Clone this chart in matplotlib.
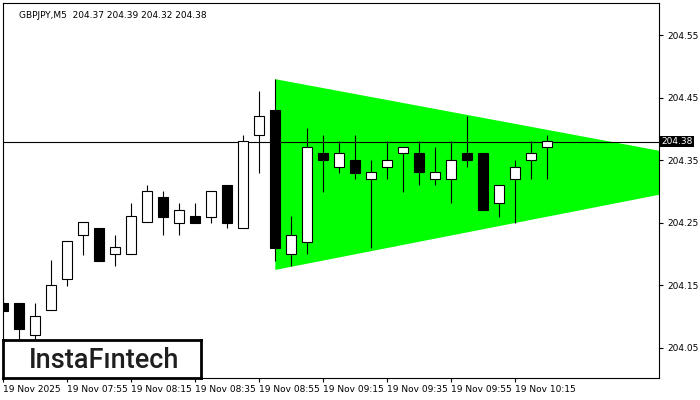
import matplotlib
matplotlib.use('Agg')
import matplotlib.pyplot as plt
import matplotlib.transforms as mtransforms
from matplotlib.patches import Rectangle, Polygon

# GBPJPY M5, 19 Nov 2025 07:35 .. 10:25
times = ['07:35', '07:40', '07:45', '07:50', '07:55', '08:00', '08:05', '08:10',
         '08:15', '08:20', '08:25', '08:30', '08:35', '08:40', '08:45', '08:50',
         '08:55', '09:00', '09:05', '09:10', '09:15', '09:20', '09:25', '09:30',
         '09:35', '09:40', '09:45', '09:50', '09:55', '10:00', '10:05', '10:10',
         '10:15', '10:20', '10:25']
opens = [204.122, 204.121, 204.070, 204.110, 204.160, 204.230, 204.241, 204.200,
         204.200, 204.251, 204.292, 204.250, 204.261, 204.260, 204.311, 204.241,
         204.390, 204.431, 204.200, 204.220, 204.362, 204.340, 204.351, 204.320,
         204.340, 204.362, 204.362, 204.320, 204.320, 204.362, 204.362, 204.281,
         204.320, 204.350, 204.371]
highs = [204.131, 204.121, 204.121, 204.190, 204.221, 204.251, 204.241, 204.231,
         204.281, 204.311, 204.301, 204.281, 204.281, 204.301, 204.311, 204.391,
         204.461, 204.481, 204.261, 204.402, 204.391, 204.381, 204.391, 204.351,
         204.381, 204.371, 204.381, 204.371, 204.381, 204.421, 204.362, 204.310,
         204.350, 204.381, 204.391]
lows = [204.109, 204.060, 204.060, 204.110, 204.149, 204.199, 204.189, 204.180,
        204.200, 204.251, 204.230, 204.230, 204.250, 204.250, 204.241, 204.241,
        204.330, 204.189, 204.180, 204.200, 204.300, 204.330, 204.320, 204.210,
        204.320, 204.300, 204.310, 204.310, 204.281, 204.340, 204.270, 204.260,
        204.250, 204.320, 204.320]
closes = [204.109, 204.080, 204.101, 204.150, 204.221, 204.251, 204.189, 204.211,
          204.261, 204.301, 204.260, 204.270, 204.250, 204.301, 204.250, 204.381,
          204.421, 204.210, 204.230, 204.371, 204.350, 204.362, 204.330, 204.331,
          204.350, 204.371, 204.331, 204.331, 204.350, 204.350, 204.270, 204.310,
          204.340, 204.362, 204.381]

# symmetrical triangle (bars index, price)
tri_x = [17, 17, 48.2]
tri_y = [204.480, 204.1745, 204.331]

last_price = 204.38
yticks = [204.05, 204.15, 204.25, 204.35, 204.45, 204.55]
xtick_pos = [0, 4, 8, 12, 16, 20, 24, 28, 32]
xtick_labels = ['19 Nov 2025', '19 Nov 07:55', '19 Nov 08:15', '19 Nov 08:35',
                '19 Nov 08:55', '19 Nov 09:15', '19 Nov 09:35', '19 Nov 09:55',
                '19 Nov 10:15']

fig = plt.figure(figsize=(7, 4), dpi=100)
ax = fig.add_axes([3/700, 22/400, 656/700, 375/400])
ax.set_xlim(-0.02, 40.98)
ax.set_ylim(204.0014, 204.602)

ax.add_patch(Polygon(list(zip(tri_x, tri_y)), closed=True, facecolor='#00ff00',
                     edgecolor='none', zorder=1))
ax.axhline(last_price, color='black', lw=0.8, zorder=2)

w = 0.62
for i in range(len(opens)):
    o, h, l, c = opens[i], highs[i], lows[i], closes[i]
    ax.plot([i, i], [l, h], color='black', lw=0.8, zorder=3, solid_capstyle='butt')
    bottom = min(o, c)
    height = max(abs(c - o), 0.0008)
    face = 'white' if c >= o else 'black'
    ax.add_patch(Rectangle((i - w/2, bottom), w, height, facecolor=face,
                           edgecolor='black', lw=0.8, zorder=4))

ax.yaxis.tick_right()
ax.set_yticks(yticks)
ax.set_yticklabels(['%.2f' % v for v in yticks])
ax.set_xticks(xtick_pos)
ax.set_xticklabels(xtick_labels)
ax.tick_params(axis='y', direction='out', length=3, width=0.8, labelsize=6.5, pad=3)
ax.tick_params(axis='x', direction='out', length=3, width=0.8, labelsize=6.5, pad=2)
for lab in ax.get_xticklabels():
    lab.set_ha('left')
for sp in ax.spines.values():
    sp.set_linewidth(0.8)

# current price label on the axis
trans = mtransforms.blended_transform_factory(ax.transAxes, ax.transData)
ax.text(1.004, last_price, '204.38', transform=trans, color='white', fontsize=6.5,
        va='center', ha='left',
        bbox=dict(boxstyle='square,pad=0.15', facecolor='black', edgecolor='none'))

ax.text(0.024, 0.98, 'GBPJPY,M5  204.37 204.39 204.32 204.38', transform=ax.transAxes,
        fontsize=6.5, va='top', ha='left', color='black')

# logo box
logo = fig.add_axes([3/700, 22/400, 198/700, 38/400])
logo.set_xticks([])
logo.set_yticks([])
logo.set_facecolor('white')
for sp in logo.spines.values():
    sp.set_linewidth(2)
logo.text(0.51, 0.47, 'InstaF\u0131ntech', ha='center', va='center', fontsize=19.5,
          family='Roboto', fontweight='medium', color='#1e1e1e')

fig.savefig('out.png', dpi=100)
